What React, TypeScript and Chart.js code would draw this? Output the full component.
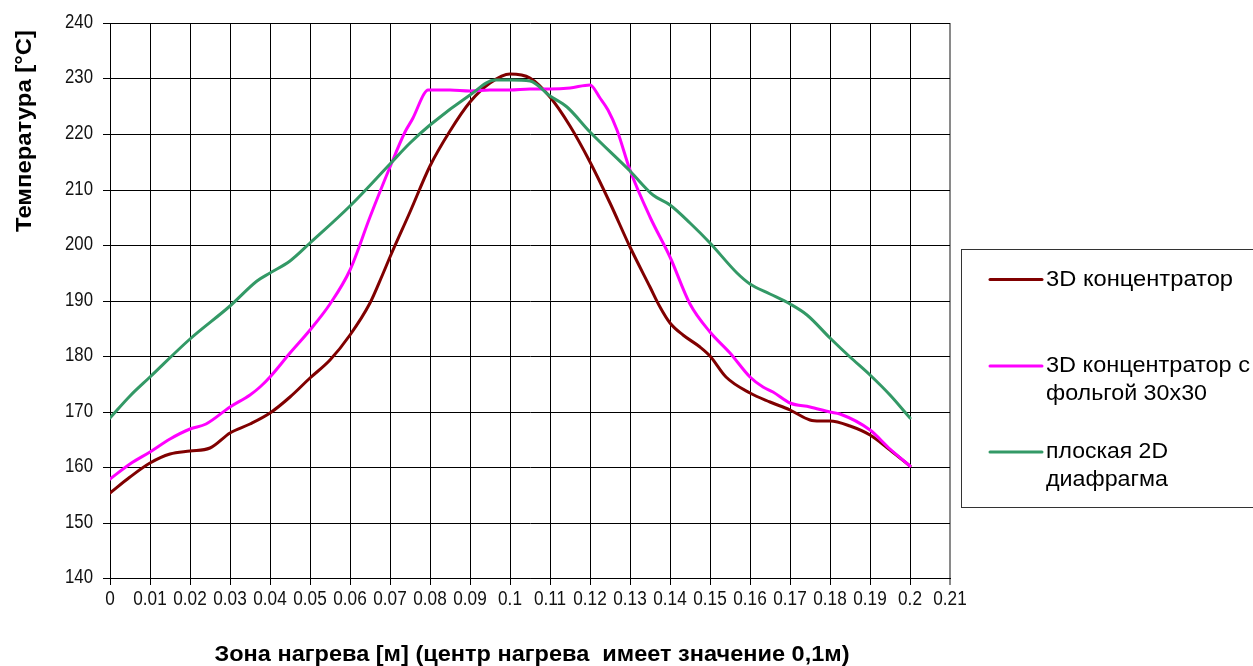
import React, { useEffect, useRef } from "react";
import { Chart, registerables } from "chart.js";

Chart.register(...registerables);

// ---- Data ----
const xTickStep = 0.01;
const xMin = 0;
const xMax = 0.21;
const yMin = 140;
const yMax = 240;
const yStep = 10;

const seriesNames = [
  "3D концентратор",
  "3D концентратор с фольгой 30x30",
  "плоская 2D диафрагма",
];
const legendLines = [
  ["3D концентратор"],
  ["3D концентратор с", "фольгой 30x30"],
  ["плоская 2D", "диафрагма"],
];
const seriesColors = ["#800000", "#FF00FF", "#339966"];

const darkX = [0, 0.005, 0.01, 0.015, 0.02, 0.025, 0.03, 0.035, 0.04, 0.045, 0.05, 0.055, 0.06, 0.065, 0.068, 0.07, 0.075, 0.08, 0.085, 0.09, 0.095, 0.1, 0.105, 0.11, 0.115, 0.12, 0.125, 0.13, 0.135, 0.1375, 0.14, 0.1433, 0.1475, 0.15, 0.154, 0.16, 0.165, 0.17, 0.175, 0.1775, 0.18, 0.185, 0.19, 0.195, 0.2];
const darkY = [155.3, 158.2, 160.8, 162.3, 162.9, 163.5, 166.1, 167.7, 169.7, 172.7, 176.0, 179.2, 183.8, 189.6, 194.4, 197.8, 206.0, 214.2, 220.5, 225.8, 229.2, 230.8, 230.0, 226.6, 221.5, 215.0, 207.5, 199.7, 192.4, 188.8, 186.0, 183.8, 181.7, 180.0, 176.3, 173.3, 171.8, 170.3, 168.5, 168.2, 168.3, 167.4, 165.8, 163.1, 160.1];

const magX = [0, 0.005, 0.01, 0.015, 0.02, 0.024, 0.03, 0.035, 0.0375, 0.04, 0.045, 0.05, 0.055, 0.06, 0.065, 0.07, 0.0738, 0.0758, 0.0785, 0.0795, 0.085, 0.09, 0.095, 0.1, 0.105, 0.11, 0.115, 0.12, 0.1225, 0.1246, 0.1267, 0.13, 0.135, 0.14, 0.145, 0.15, 0.155, 0.16, 0.1633, 0.1658, 0.17, 0.175, 0.18, 0.1825, 0.19, 0.195, 0.2];
const magY = [157.8, 160.6, 162.7, 165.1, 166.9, 167.7, 170.9, 173.0, 174.5, 176.3, 180.5, 184.7, 189.3, 195.5, 205.1, 214.0, 220.4, 222.8, 227.2, 228.0, 227.9, 227.7, 227.9, 228.0, 228.1, 228.1, 228.3, 228.9, 226.5, 224.3, 220.7, 213.5, 205.0, 197.9, 189.4, 184.3, 180.5, 176.3, 174.5, 173.6, 171.5, 170.8, 170.0, 169.6, 166.6, 163.3, 160.1];

const greenX = [0, 0.005, 0.01, 0.02, 0.03, 0.0368, 0.04, 0.045, 0.05, 0.06, 0.07, 0.075, 0.08, 0.09, 0.0963, 0.1, 0.105, 0.11, 0.1142, 0.12, 0.13, 0.1358, 0.14, 0.145, 0.15, 0.1567, 0.16, 0.165, 0.17, 0.1742, 0.18, 0.185, 0.19, 0.195, 0.2];
const greenY = [168.8, 172.8, 176.3, 183.0, 189.0, 193.5, 195.0, 197.1, 200.4, 207.0, 214.6, 218.3, 221.6, 227.0, 229.7, 229.7, 229.5, 226.8, 224.9, 220.4, 213.4, 209.0, 207.2, 203.9, 200.3, 194.9, 193.0, 191.2, 189.4, 187.3, 183.2, 179.9, 176.6, 173.0, 168.8];

const xTitle = "Зона нагрева [м] (центр нагрева  имеет значение 0,1м)";
const yTitle = "Температура [°C]";

const FONT = "'Liberation Sans', Arial, sans-serif";

const fmtX = (v: number) => String(Number(Number(v).toFixed(2)));

function drawText(
  ctx: CanvasRenderingContext2D,
  text: string,
  x: number,
  y: number,
  size: number,
  weight: string,
  sx: number,
  align: CanvasTextAlign,
  rotate = 0,
  color = "#000"
) {
  ctx.save();
  ctx.font = `${weight} ${size}px ${FONT}`;
  ctx.translate(x, y);
  if (rotate) ctx.rotate(rotate);
  ctx.scale(sx, 1);
  ctx.fillStyle = color;
  ctx.textAlign = align;
  ctx.textBaseline = "middle";
  ctx.fillText(text, 0, 0);
  ctx.restore();
}

function fitText(
  ctx: CanvasRenderingContext2D,
  text: string,
  x: number,
  y: number,
  size: number,
  weight: string,
  targetW: number,
  align: CanvasTextAlign,
  rotate = 0
) {
  ctx.save();
  ctx.font = `${weight} ${size}px ${FONT}`;
  const w = ctx.measureText(text).width;
  ctx.restore();
  drawText(ctx, text, x, y, size, weight, targetW / w, align, rotate);
}

const decorPlugin = {
  id: "decor",
  afterDraw(chart: any) {
    const ctx: CanvasRenderingContext2D = chart.ctx;
    const area = chart.chartArea;
    const xs = chart.scales.x;
    const ys = chart.scales.y;

    // tick labels (narrow, tall like the reference)
    xs.ticks.forEach((t: any) => {
      drawText(ctx, fmtX(t.value), xs.getPixelForValue(t.value), 599.5, 20, "normal", 0.86, "center", 0, "#111");
    });
    ys.ticks.forEach((t: any) => {
      drawText(ctx, String(t.value), 93, ys.getPixelForValue(t.value), 19.5, "normal", 0.86, "right", 0, "#111");
    });

    // axis titles
    fitText(ctx, xTitle, (area.left + area.right) / 2 + 2, 655, 22, "bold", 635, "center");
    fitText(ctx, yTitle, 25, 131, 22, "bold", 202, "center", -Math.PI / 2);

    // legend box
    ctx.save();
    ctx.strokeStyle = "#333";
    ctx.lineWidth = 1;
    ctx.strokeRect(961.5, 249.5, 320, 258);
    ctx.restore();

    const itemY = [279.5, 366, 452];
    const lineGap = 28;
    const widths = [[187], [204, 161], [122, 122]];
    legendLines.forEach((lines, i) => {
      ctx.save();
      ctx.strokeStyle = seriesColors[i];
      ctx.lineWidth = 3;
      ctx.lineCap = "round";
      ctx.beginPath();
      ctx.moveTo(990, itemY[i]);
      ctx.lineTo(1042, itemY[i]);
      ctx.stroke();
      ctx.restore();
      lines.forEach((t, j) => {
        fitText(ctx, t, 1046, itemY[i] + j * lineGap, 22, "normal", widths[i][j], "left");
      });
    });
  },
};

export default function App() {
  const canvasRef = useRef<HTMLCanvasElement | null>(null);

  useEffect(() => {
    const canvas = canvasRef.current;
    if (!canvas) return;
    const mk = (xs: number[], ys: number[]) => xs.map((x, i) => ({ x, y: ys[i] }));
    const datasets = [mk(darkX, darkY), mk(magX, magY), mk(greenX, greenY)].map((d, i) => ({
      label: seriesNames[i],
      data: d,
      borderColor: seriesColors[i],
      backgroundColor: seriesColors[i],
      borderWidth: 3,
      pointRadius: 0,
      cubicInterpolationMode: "monotone" as const,
      borderCapStyle: "round" as const,
      borderJoinStyle: "round" as const,
      fill: false,
    }));

    const chart = new Chart(canvas, {
      type: "line",
      data: { datasets: datasets.slice().reverse() as any },
      options: {
        responsive: false,
        animation: false,
        events: [],
        layout: { padding: { left: 0, right: 303, top: 23, bottom: 0 } },
        plugins: { legend: { display: false }, tooltip: { enabled: false }, title: { display: false } },
        scales: {
          x: {
            type: "linear",
            min: xMin,
            max: xMax,
            alignToPixels: true,
            afterFit: (s: any) => {
              s.height = 88;
            },
            ticks: {
              stepSize: xTickStep,
              autoSkip: false,
              maxRotation: 0,
              minRotation: 0,
              padding: 5,
              color: "rgba(0,0,0,0)",
              font: { family: FONT, size: 18 },
              callback: (v: any) => fmtX(v),
            },
            grid: {
              color: (c: any) => (c.tick && Math.abs(c.tick.value - xMax) < 1e-9 ? "#8a8a8a" : "#000"),
              lineWidth: (c: any) => (c.tick && Math.abs(c.tick.value - xMax) < 1e-9 ? 2 : 1),
              tickLength: 7,
              drawTicks: true,
            },
            border: { color: "#000", width: 1 },
          },
          y: {
            type: "linear",
            min: yMin,
            max: yMax,
            alignToPixels: true,
            afterFit: (s: any) => {
              s.width = 110;
            },
            ticks: {
              stepSize: yStep,
              padding: 10,
              color: "rgba(0,0,0,0)",
              font: { family: FONT, size: 18 },
            },
            grid: { color: "#000", lineWidth: 1, tickLength: 7, drawTicks: true },
            border: { color: "#000", width: 1 },
          },
        },
      },
      plugins: [decorPlugin],
    });
    return () => chart.destroy();
  }, []);

  return (
    <div style={{ position: "fixed", left: 0, top: 0, width: 1253, height: 666, background: "#fff" }}>
      <canvas ref={canvasRef} width={1253} height={666} style={{ display: "block", width: 1253, height: 666 }} />
    </div>
  );
}
